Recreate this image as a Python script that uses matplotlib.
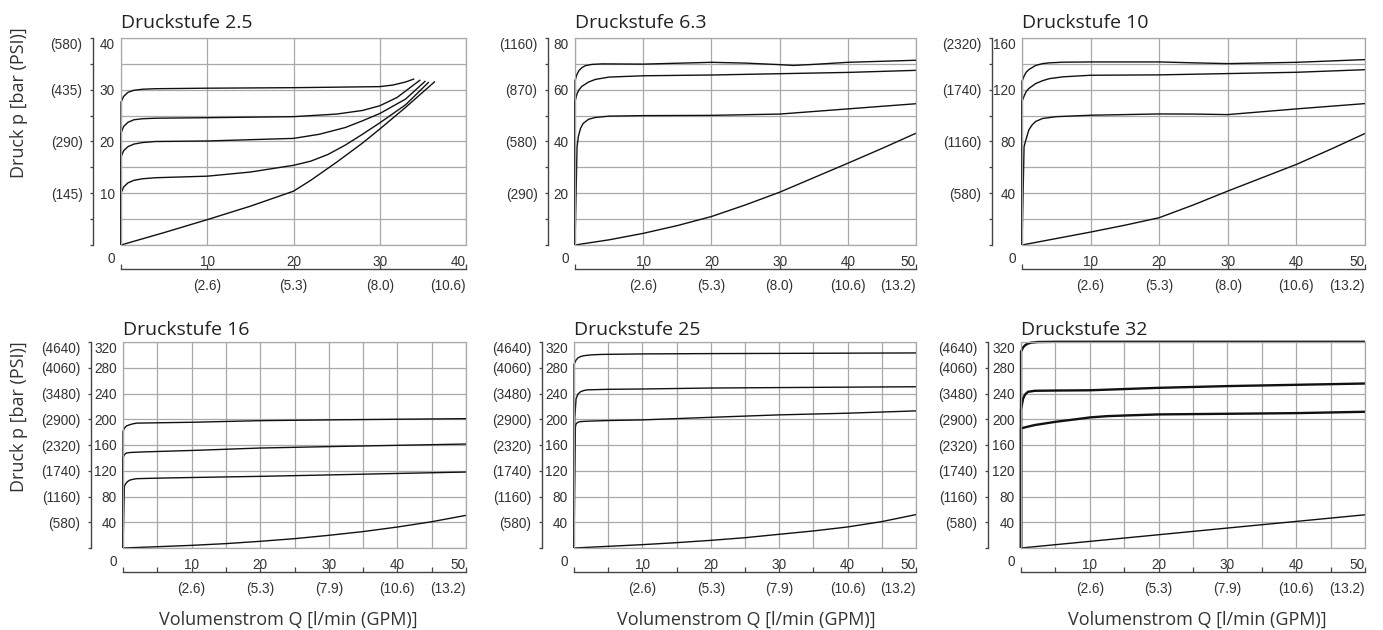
import matplotlib
matplotlib.use("Agg")
import matplotlib.pyplot as plt
from matplotlib.transforms import offset_copy

# ---------------- data ----------------
# Druckstufe 2.5  (Q in l/min, p in bar)
Q25_1 = [0, 5, 10, 15, 20, 22, 25, 28, 30, 33, 36.4]
P25_1 = [0, 2.4, 4.9, 7.5, 10.4, 12.5, 16.0, 19.7, 22.4, 26.6, 31.6]
Q25_2 = [0, 0, 0.3, 0.8, 1.5, 2.5, 4, 10, 15, 20, 22, 24, 26, 28, 30, 33, 35.7]
P25_2 = [0, 10, 11.2, 12.0, 12.5, 12.8, 13.0, 13.3, 14.1, 15.4, 16.2, 17.5, 19.3, 21.4, 23.6, 27.1, 31.5]
Q25_3 = [0, 0, 0.3, 0.8, 1.5, 2.5, 4, 10, 20, 23, 26, 28, 30, 33, 35.3]
P25_3 = [0, 17, 18.2, 19.0, 19.5, 19.8, 20.0, 20.1, 20.6, 21.4, 22.7, 24.0, 25.4, 28.2, 31.7]
Q25_4 = [0, 0, 0.3, 0.8, 1.5, 2.5, 4, 10, 20, 25, 28, 30, 32, 34.7]
P25_4 = [0, 21.6, 22.9, 23.7, 24.2, 24.4, 24.5, 24.6, 24.8, 25.3, 26.0, 26.9, 28.5, 31.9]
Q25_5 = [0, 0, 0.3, 0.8, 1.5, 2.5, 4, 10, 20, 30, 31.5, 33, 34.0]
P25_5 = [0, 27.6, 28.7, 29.5, 29.9, 30.1, 30.2, 30.3, 30.4, 30.6, 30.9, 31.5, 32.1]

# Druckstufe 6.3
Q63_1 = [0, 5, 10, 15, 20, 25, 30, 35, 40, 45, 50]
P63_1 = [0, 2.0, 4.5, 7.5, 11.0, 15.5, 20.4, 26.0, 31.6, 37.3, 43.2]
Q63_2 = [0, 0.3, 0.5, 0.8, 1.2, 2, 3, 5, 10, 20, 30, 40, 50]
P63_2 = [0, 38, 42, 45, 47, 48.6, 49.3, 49.8, 50.0, 50.1, 50.6, 52.6, 54.6]
Q63_3 = [0, 0, 0.3, 0.6, 1, 2, 3, 5, 10, 20, 30, 40, 50]
P63_3 = [0, 55.5, 58.5, 60.0, 61.3, 63.0, 64.0, 64.9, 65.4, 65.7, 66.2, 66.7, 67.5]
Q63_4 = [0, 0, 0.3, 0.6, 1, 1.5, 2.5, 4, 10, 20, 25, 30, 32, 35, 40, 50]
P63_4 = [0, 63.5, 66.0, 67.5, 68.5, 69.3, 69.8, 70.0, 69.9, 70.6, 70.3, 69.7, 69.4, 69.8, 70.6, 71.4]

# Druckstufe 10
Q10_1 = [0, 5, 10, 15, 20, 25, 30, 35, 40, 45, 50]
P10_1 = [0, 5, 10, 15.3, 21.1, 31, 41.7, 52, 62.3, 74, 86.2]
Q10_2 = [0, 0.3, 0.5, 1, 1.5, 2, 3, 5, 10, 20, 25, 30, 40, 50]
P10_2 = [0, 76, 80, 89, 93, 95.5, 97.8, 99.2, 100.3, 101.3, 101.2, 100.8, 105.2, 109.3]
Q10_3 = [0, 0, 0.3, 0.6, 1, 2, 3, 4, 6, 10, 20, 30, 40, 50]
P10_3 = [0, 111, 115, 118.5, 121, 124.8, 127, 128.6, 130, 131.2, 131.5, 132.5, 133.5, 135.5]
Q10_4 = [0, 0, 0.3, 0.6, 1, 2, 3, 4, 6, 10, 20, 25, 30, 40, 50]
P10_4 = [0, 126.6, 130.5, 133.5, 135.6, 138.8, 140.2, 140.8, 141.3, 141.5, 141.5, 140.8, 140.2, 141.2, 143.3]

# Druckstufe 16
Q16_1 = [0, 5, 10, 15, 20, 25, 30, 35, 40, 45, 50]
P16_1 = [0, 2, 4.1, 6.8, 10.4, 14.5, 19.7, 25.5, 32.6, 40.8, 50.7]
Q16_2 = [0, 0.2, 0.4, 0.7, 1, 1.5, 2, 5, 10, 20, 30, 40, 50]
P16_2 = [0, 96, 100, 103.5, 105.5, 106.8, 107.7, 108.5, 109.5, 111.3, 113.5, 115.8, 118]
Q16_3 = [0, 0, 0.2, 0.5, 1, 1.5, 3, 10, 20, 30, 40, 50]
P16_3 = [0, 140, 145, 147.6, 148.3, 148.6, 149.3, 151.5, 155.3, 157.5, 159.5, 161.5]
Q16_4 = [0, 0, 0.2, 0.5, 1, 1.5, 2, 5, 10, 20, 30, 40, 50]
P16_4 = [0, 181, 186, 189.5, 191.6, 193, 194, 194.5, 195.3, 197.8, 199, 200, 200.9]

# Druckstufe 25
Q250_1 = [0, 5, 10, 15, 20, 25, 30, 35, 40, 45, 50]
P250_1 = [0, 2.6, 5.2, 8.3, 11.9, 16.0, 21.3, 26.5, 32.7, 41.0, 51.9]
Q250_2 = [0, 0.2, 0.3, 0.6, 1, 2, 5, 10, 20, 30, 40, 50]
P250_2 = [0, 188, 193, 195.5, 196.4, 197, 198, 199, 203, 206.8, 209.4, 213]
Q250_3 = [0, 0.1, 0.3, 0.6, 1, 1.5, 2, 5, 10, 20, 30, 50]
P250_3 = [0, 200, 232, 239.5, 243, 244.8, 245.7, 246.5, 247, 248.5, 249.2, 250.5]
Q250_4 = [0, 0, 0.3, 0.6, 1, 1.5, 2.5, 4, 10, 20, 30, 50]
P250_4 = [0, 285, 292, 295.5, 297.5, 298.8, 300, 300.7, 301.5, 302, 302.3, 303]

# Druckstufe 32
Q32_1 = [0, 10, 20, 30, 40, 50]
P32_1 = [0, 10.3, 20.6, 31, 41.3, 51.6]
Q32_2 = [0, 0, 1, 2, 5, 8, 10, 12.5, 15, 20, 30, 40, 50]
P32_2 = [0, 185.8, 188.5, 191, 196, 200, 202.8, 204.8, 205.8, 207.5, 208.5, 209.5, 211.6]
Q32_3 = [0, 0, 0.3, 0.6, 1, 2, 5, 10, 20, 30, 40, 50]
P32_3 = [0, 215, 232, 238.5, 242.6, 244.2, 244.6, 245, 248.8, 251.5, 253.5, 255.5]
Q32_4 = [0, 0, 0.3, 0.6, 1, 1.5, 2.5, 5, 50]
P32_4 = [0, 305, 311.5, 315, 317.5, 319, 320, 320.3, 320.3]

# axis tick labels
BAR_25 = ["", "", "10", "", "20", "", "30", "", "40"]
PSI_25 = ["", "", "(145)", "", "(290)", "", "(435)", "", "(580)"]
BAR_63 = ["", "", "20", "", "40", "", "60", "", "80"]
PSI_63 = ["", "", "(290)", "", "(580)", "", "(870)", "", "(1160)"]
BAR_10 = ["", "", "40", "", "80", "", "120", "", "160"]
PSI_10 = ["", "", "(580)", "", "(1160)", "", "(1740)", "", "(2320)"]
BAR_320 = ["", "40", "80", "120", "160", "200", "240", "280", "320"]
PSI_320 = ["", "(580)", "(1160)", "(1740)", "(2320)", "(2900)", "(3480)", "(4060)", "(4640)"]
GPM_40 = ["", "(2.6)", "(5.3)", "(8.0)", "(10.6)"]
GPM_50A = ["", "(2.6)", "(5.3)", "(8.0)", "(10.6)", "(13.2)"]
GPM_50B = ["", "(2.6)", "(5.3)", "(7.9)", "(10.6)", "(13.2)"]

TITLES = ["Druckstufe 2.5", "Druckstufe 6.3", "Druckstufe 10",
          "Druckstufe 16", "Druckstufe 25", "Druckstufe 32"]
YLABEL = "Druck p [bar (PSI)]"
XLABEL = "Volumenstrom Q [l/min (GPM)]"

# ---------------- styling / layout ----------------
W, H = 1383, 630
GRID = "#a9a9a9"
SPINE = "#444444"
TXT = "#333333"
NUMFONT = ["Liberation Sans", "DejaVu Sans"]
TFONT = ["Open Sans", "DejaVu Sans"]

fig = plt.figure(figsize=(W / 100, H / 100), dpi=100)


def panel(box, spine_x, axis_y, title, title_pad, xmax, xstep, ymax,
          bar_labels, psi_labels, gpm_labels, curves, lws):
    x0, x1, y0, y1 = box
    ax = fig.add_axes([x0 / W, 1 - y1 / H, (x1 - x0) / W, (y1 - y0) / H])
    ax.set_xlim(0, xmax)
    ax.set_ylim(0, ymax)
    for s in ax.spines.values():
        s.set_color(GRID)
        s.set_linewidth(0.9)

    ny = len(bar_labels)
    yt = [ymax * i / (ny - 1) for i in range(ny)]
    xt = list(range(0, xmax + 1, xstep))
    xl = [str(v) if (v % 10 == 0 and v > 0) else "" for v in xt]
    ax.set_xticks(xt, xl)
    ax.set_yticks(yt, bar_labels)
    ax.grid(True, color=GRID, linewidth=0.9)
    ax.set_axisbelow(True)
    ax.tick_params(axis="both", length=0, colors=TXT, labelsize=9.8)
    ax.tick_params(axis="x", pad=7)
    ax.tick_params(axis="y", pad=4.5)
    for lab in ax.get_xticklabels() + ax.get_yticklabels():
        lab.set_family(NUMFONT)
    ax.xaxis.get_major_ticks()[-1].label1.set_ha("right")
    ax.yaxis.get_major_ticks()[-1].label1.set_va("top")

    # origin "0"
    tr = offset_copy(ax.transData, fig=fig, x=-6, y=-14, units="dots")
    ax.text(0, 0, "0", transform=tr, ha="right", va="center",
            fontsize=9.8, color=TXT, family=NUMFONT)

    # curves
    for (q, p), lw in zip(curves, lws):
        ax.plot(q, p, color="#111111", linewidth=lw, clip_on=False,
                solid_joinstyle="round", solid_capstyle="butt")

    # left pressure axis (bar ticks, PSI labels)
    sy = ax.secondary_yaxis(-(x0 - spine_x) / (x1 - x0))
    sy.set_yticks(yt, psi_labels)
    sy.spines["left"].set_color(SPINE)
    sy.spines["left"].set_linewidth(1.0)
    sy.tick_params(direction="out", length=2.5, width=0.9, color=SPINE,
                   colors=TXT, labelsize=9.8, pad=5)
    for lab in sy.get_yticklabels():
        lab.set_family(NUMFONT)
    sy.yaxis.get_major_ticks()[-1].label1.set_va("top")

    # bottom flow axis (GPM labels)
    sx = ax.secondary_xaxis(-(axis_y - y1) / (y1 - y0))
    gl = []
    for v in xt:
        if v % 10 == 0:
            gl.append(gpm_labels[v // 10])
        else:
            gl.append("")
    sx.set_xticks(xt, gl)
    sx.spines["bottom"].set_color(SPINE)
    sx.spines["bottom"].set_linewidth(1.0)
    sx.tick_params(direction="in", length=3.5, width=0.9, color=SPINE,
                   colors=TXT, labelsize=9.8, pad=7.5)
    for lab in sx.get_xticklabels():
        lab.set_family(NUMFONT)
    sx.xaxis.get_major_ticks()[-1].label1.set_ha("right")

    ax.set_title(title, loc="left", pad=title_pad, fontsize=14,
                 color="#222222", family=TFONT)
    return ax


lw_n = [1.0, 1.0, 1.0, 1.0, 1.0]
panel((121, 466, 38, 245), 93, 269, TITLES[0], 7, 40, 10, 40,
      BAR_25, PSI_25, GPM_40,
      [(Q25_1, P25_1), (Q25_2, P25_2), (Q25_3, P25_3), (Q25_4, P25_4), (Q25_5, P25_5)],
      lw_n)
panel((575, 916, 38, 245), 548, 269, TITLES[1], 7, 50, 10, 80,
      BAR_63, PSI_63, GPM_50A,
      [(Q63_1, P63_1), (Q63_2, P63_2), (Q63_3, P63_3), (Q63_4, P63_4)],
      lw_n)
panel((1022, 1365, 38, 245), 992, 269, TITLES[2], 7, 50, 10, 160,
      BAR_10, PSI_10, GPM_50A,
      [(Q10_1, P10_1), (Q10_2, P10_2), (Q10_3, P10_3), (Q10_4, P10_4)],
      lw_n)
panel((123, 466, 342, 548), 91, 572, TITLES[3], 5, 50, 5, 320,
      BAR_320, PSI_320, GPM_50B,
      [(Q16_1, P16_1), (Q16_2, P16_2), (Q16_3, P16_3), (Q16_4, P16_4)],
      lw_n)
panel((574, 916, 342, 548), 542, 572, TITLES[4], 5, 50, 5, 320,
      BAR_320, PSI_320, GPM_50B,
      [(Q250_1, P250_1), (Q250_2, P250_2), (Q250_3, P250_3), (Q250_4, P250_4)],
      lw_n)
panel((1021, 1365, 342, 548), 988, 572, TITLES[5], 5, 50, 5, 320,
      BAR_320, PSI_320, GPM_50B,
      [(Q32_1, P32_1), (Q32_2, P32_2), (Q32_3, P32_3), (Q32_4, P32_4)],
      [1.0, 1.7, 1.7, 1.7])

# axis titles
fig.text(19 / W, 1 - 103 / H, YLABEL, rotation=90, ha="center", va="center",
         fontsize=13, color=TXT, family=TFONT)
fig.text(19 / W, 1 - 417 / H, YLABEL, rotation=90, ha="center", va="center",
         fontsize=13, color=TXT, family=TFONT)
for cx in (288, 746, 1197):
    fig.text(cx / W, 1 - 620 / H, XLABEL, ha="center", va="center",
             fontsize=13, color=TXT, family=TFONT)

fig.savefig("out.png", dpi=100, facecolor="white")
